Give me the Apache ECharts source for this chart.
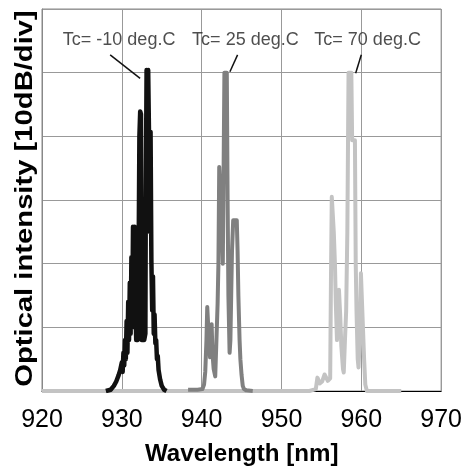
<!DOCTYPE html>
<html>
<head>
<meta charset="utf-8">
<script src="https://cdn.jsdelivr.net/npm/echarts@6/dist/echarts.min.js"></script>
<style>html,body{margin:0;padding:0;background:#fff}#c{width:465px;height:475px}</style>
</head>
<body>
<div id="c"></div>
<script>
// Wavelength ticks
const xTicks = [920, 930, 940, 950, 960, 970];
// Tc = -10 deg.C spectrum (black)
const blackWl = [928.0,928.6,929.0,929.3,929.6,929.8,930.0,930.1,930.2,930.3,930.4,930.5,930.6,930.7,930.8,930.9,931.0,931.1,931.2,931.3,931.4,931.5,931.6,931.7,931.8,931.9,932.0,932.1,932.2,932.3,932.4,932.5,932.6,932.7,932.8,932.95,933.0,933.1,933.2,933.3,933.4,933.5,933.6,933.7,933.8,933.9,934.0,934.1,934.2,934.3,934.4,934.5,934.6,934.8,935.0,935.3,935.6];
const blackDb = [0,0.2,0.8,1.5,2.5,3.3,4.5,3,6,4,8,5,11,6,14,8,17,9,21,10,25.8,12,25.8,14,8,10,8,20,40,43.9,43.5,8,12,30,8,9,30,50.4,37,50.4,40.7,25,40.7,20.6,12.7,18,9,12,7.5,8,5,5.5,3.3,1.8,0.8,0.2,0];
// Tc = 25 deg.C spectrum (gray)
const grayWl = [938.3,939.5,940.1,940.3,940.45,940.6,940.7,940.85,940.95,941.05,941.15,941.25,941.35,941.5,941.7,941.85,942.0,942.1,942.2,942.45,942.55,942.65,942.75,942.85,943.15,943.25,943.35,943.5,943.6,943.7,943.8,943.95,944.4,944.5,944.6,944.75,944.85,945.0,945.15,945.3,945.6,946.4];
const grayDb = [0.2,0.2,0.3,1,3,8,13.2,13.2,7,5.3,8,10.5,6,3.5,2.3,8,13.8,20,35.2,35.2,25,20,35,50,50,30,15,6,8,15,22,26.8,26.8,22,15,8,5,2.5,0.8,0.3,0.1,0];
// Tc = 70 deg.C spectrum (light gray)
const lightWl = [920,953.5,954.3,954.5,954.8,955.1,955.4,955.8,956.1,956.2,956.3,956.45,956.55,956.7,956.8,956.95,957.1,957.2,957.35,957.5,957.7,957.8,957.95,958.1,958.25,958.4,958.75,958.85,959.2,959.3,959.4,959.55,959.65,959.8,959.95,960.2,960.35,960.5,960.7,965];
const lightDb = [0,0,0.3,2.1,1.2,1.5,2.6,1.6,2,18,30.5,30.5,25,19.8,14,8,12,15.9,12,7,3.5,2.9,8,12.5,25,50,50,39.4,39.4,20,12.5,5,3.7,8,18.5,18.5,5,1,0,0];
// Annotations
const annoText = ['Tc= -10 deg.C', 'Tc= 25 deg.C', 'Tc= 70 deg.C'];
const annoX = [929.66, 945.48, 960.79];
const annoY = [55.05, 55.05, 55.05];
const leaderFrom = [[928.54, 52.8], [944.5, 52.8], [960.0, 52.8]];
const leaderTo = [[932.29, 49.1], [943.54, 50.15], [959.29, 49.9]];

const zip = (a, b) => a.map((v, i) => [v, b[i]]);
const FONT = "'Liberation Sans', Arial, sans-serif";

const chart = echarts.init(document.getElementById('c'), null, {renderer: 'canvas'});
const lineSeries = (data, color, w) => ({
  type: 'line', data: data, showSymbol: false, symbol: 'none', animation: false,
  lineStyle: {color: color, width: w, join: 'round'}, z: 3
});
chart.setOption({
  animation: false,
  grid: {left: 42, right: 23, top: 9, bottom: 84, show: true, borderColor: '#888', borderWidth: 1},
  xAxis: {
    type: 'value', min: 920, max: 970, interval: 10,
    axisLine: {show: true, onZero: false, lineStyle: {color: '#000', width: 1}},
    axisTick: {show: false},
    axisLabel: {color: '#000', fontSize: 25, fontFamily: FONT, margin: 17,
      formatter: v => xTicks.includes(v) ? String(v) : ''},
    splitLine: {show: true, lineStyle: {color: '#999', width: 1}}
  },
  yAxis: {
    type: 'value', min: 0, max: 60, interval: 10,
    axisLine: {show: true, lineStyle: {color: '#888'}},
    axisTick: {show: false},
    axisLabel: {show: false},
    splitLine: {show: true, lineStyle: {color: '#999', width: 1}}
  },
  series: [
    lineSeries(zip(lightWl, lightDb), '#c3c3c3', 4),
    lineSeries(zip(grayWl, grayDb), '#808080', 4),
    lineSeries(zip(blackWl, blackDb), '#111111', 4.5),
    {
      type: 'lines', coordinateSystem: 'cartesian2d', z: 5, animation: false,
      lineStyle: {color: '#111', width: 1.5, opacity: 1},
      data: leaderFrom.map((f, i) => ({coords: [f, leaderTo[i]]}))
    },
    {
      type: 'scatter', symbolSize: 0, z: 6, animation: false, silent: true,
      label: {show: true, position: 'inside', formatter: p => p.name,
        color: '#222', fontSize: 18, fontFamily: FONT},
      data: annoText.map((t, i) => ({name: t, value: [annoX[i], annoY[i]]}))
    }
  ],
  graphic: [
    {type: 'text', x: 26, y: 198.5, rotation: Math.PI / 2, scaleX: 1.27, scaleY: 1,
      style: {text: 'Optical intensity [10dB/div]', font: "bold 23px " + FONT, fill: '#000',
        textAlign: 'center', textVerticalAlign: 'middle'}},
    {type: 'text', x: 241.7, y: 455, scaleX: 1.05,
      style: {text: 'Wavelength [nm]', font: "bold 23px " + FONT, fill: '#000',
        textAlign: 'center', textVerticalAlign: 'middle'}}
  ]
});
</script>
</body>
</html>
